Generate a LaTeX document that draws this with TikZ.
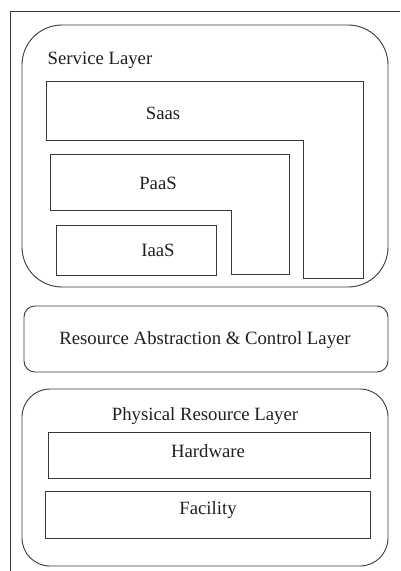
\documentclass[tikz,border=0pt]{standalone}
\usepackage{fontspec}
\setmainfont{Liberation Serif}
\newfontfamily\lblfont{Liberation Serif}
\begin{document}
\begin{tikzpicture}[x=1bp,y=-1bp,
  ln/.style={draw=black!78,line width=0.9bp},
  lbl/.style={font=\lblfont\fontsize{18.8}{22}\selectfont,text=black!88,inner sep=0pt},
  boxnode/.style={ln,inner sep=0pt,anchor=north west}]
\useasboundingbox (0,0) rectangle (400,571);
% frame
\coordinate (ftl) at (10,11);
\coordinate (ftr) at (400,11);
\coordinate (fbl) at (10,571);
\draw[ln] (ftr) -- (ftl) -- (fbl);
% service layer
\draw[ln,rounded corners=40bp] (22,25) rectangle (388,287);
\node[lbl] (svc) at (100,60) {Service Layer};
\draw[ln] (46,81) -- (363,81) -- (363,278) -- (303,278) -- (303,140) -- (46,140) -- cycle;
\node[lbl] (saas) at (163,113) {Saas};
\draw[ln] (50,154) -- (289,154) -- (289,274) -- (231,274) -- (231,210) -- (50,210) -- cycle;
\node[lbl] (paas) at (158,183) {PaaS};
\draw[ln] (56,225) rectangle (216,275);
\node[lbl] (iaas) at (158,250) {IaaS};
% resource abstraction
\draw[ln,rounded corners=11bp] (24,306) rectangle (388,372);
\node[lbl] (rac) at (205,340) {Resource Abstraction \& Control Layer};
% physical
\draw[ln,rounded corners=28bp] (22,389) rectangle (388,566);
\node[lbl] (phys) at (205,416) {Physical Resource Layer};
\draw[ln] (48,432) rectangle (370,478);
\node[lbl] (hw) at (208,451) {Hardware};
\draw[ln] (45,491) rectangle (370,538);
\node[lbl] (fac) at (208,510) {Facility};
\end{tikzpicture}
\end{document}
